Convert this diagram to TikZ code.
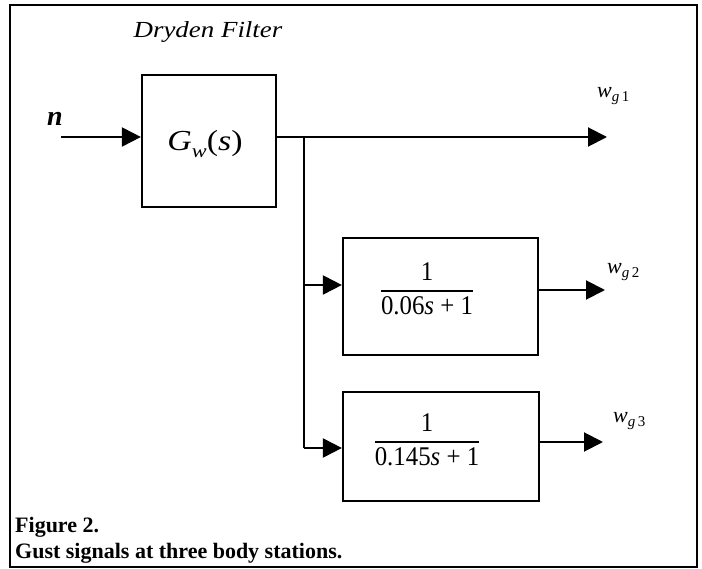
\documentclass[tikz,border=0pt]{standalone}
\usepackage{fontspec}
\setmainfont{Liberation Serif}
\newfontfamily\widefont[FakeStretch=1.17]{Liberation Serif}
\newfontfamily\narrowfont[FakeStretch=0.92]{Liberation Serif}
\usetikzlibrary{arrows.meta}
\newcommand{\fsz}[1]{\fontsize{#1}{#1}\selectfont}
\newcommand{\wsig}[1]{{\fsz{22}\itshape w}\raisebox{-0.34em}{\fsz{15}\itshape g\upshape\,#1}}
\newcommand{\blockfrac}[2]{$\displaystyle{\hbox{\narrowfont #1}\above 1.6pt\hbox{\narrowfont #2}}$}
\begin{document}
\begin{tikzpicture}[x=1pt,y=-1pt,
  conn/.style={line width=2pt},
  flow/.style={line width=2pt,-{Triangle[length=19pt,width=19pt]}},
  blockbox/.style={draw,line width=2.2pt,inner sep=0pt},
  lbl/.style={inner sep=0pt,anchor=base},
  capt/.style={inner sep=0pt,anchor=base west,font=\fsz{22}\bfseries}]
\useasboundingbox (0,0) rectangle (702,569);
\draw[line width=1.2pt] (10,5) rectangle (697,567);
% blocks
\node[blockbox,minimum width=134pt,minimum height=132pt] (G) at (209,141) {};
\node[blockbox,minimum width=195pt,minimum height=117pt] (B2) at (440.5,296.5) {};
\node[blockbox,minimum width=196pt,minimum height=109pt] (B3) at (441,446.5) {};
% block contents
\node[lbl] (Gtxt) at (205,151) {\widefont\fsz{29}\itshape G\raisebox{-0.22em}{\fsz{19}w}\upshape(\itshape s\upshape)};
\node[inner sep=0pt] (F2) at (427,289) {\fsz{27}\blockfrac{1}{0.06\textit{s} + 1}};
\node[inner sep=0pt] (F3) at (427,440) {\fsz{27}\blockfrac{1}{0.145\textit{s} + 1}};
% labels
\node[lbl] (title) at (208,38) {\widefont\fsz{23}\itshape Dryden Filter};
\node[lbl] (nlab) at (55,126) {\fsz{28}\bfseries\itshape n};
\node[lbl,anchor=base west] (w1) at (597,98) {\wsig{1}};
\node[lbl,anchor=base west] (w2) at (607,274) {\wsig{2}};
\node[lbl,anchor=base west] (w3) at (613,423) {\wsig{3}};
% coordinates
\coordinate (in) at (61,137);
\coordinate (o1) at (607,137);
\coordinate (j0) at (304,137);
\coordinate (j2) at (304,285);
\coordinate (j3) at (304,448);
\coordinate (o2) at (605,290);
\coordinate (o3) at (603,442);
% connectors
\draw[flow] (in) -- (in -| G.west);
\draw[flow] (G.east |- o1) -- (o1);
\draw[conn] (j0) -- (j3);
\draw[flow] (j2) -- (j2 -| B2.west);
\draw[flow] (j3) -- (j3 -| B3.west);
\draw[flow] (B2.east |- o2) -- (o2);
\draw[flow] (B3.east |- o3) -- (o3);
% caption
\node[capt] (cap1) at (15,532) {Figure 2.};
\node[capt] (cap2) at (15,558) {Gust signals at three body stations.};
\end{tikzpicture}
\end{document}
